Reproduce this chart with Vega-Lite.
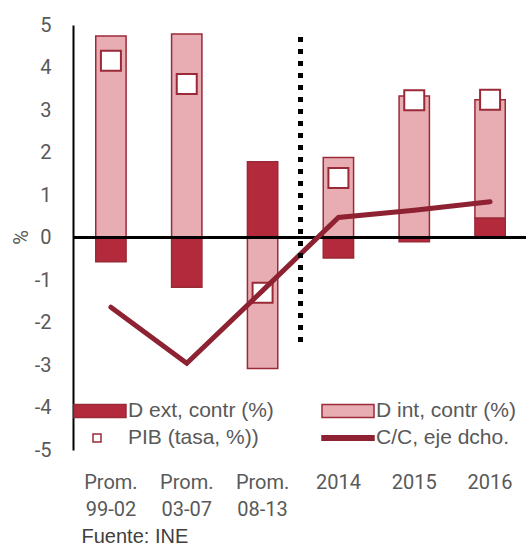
{
  "$schema": "https://vega.github.io/schema/vega-lite/v6.json",
  "width": 455,
  "height": 425,
  "autosize": "none",
  "padding": {"left": 73, "top": 25, "right": 0, "bottom": 104},
  "background": "white",
  "config": {
    "view": {"stroke": null},
    "font": "Liberation Sans",
    "axis": {"labelFont": "Roboto", "titleFont": "Roboto", "labelColor": "#595959", "titleColor": "#595959", "labelFontSize": 20, "titleFontSize": 20, "titleFontWeight": "normal", "grid": false, "ticks": false},
    "legend": {"labelFont": "Liberation Sans", "labelFontSize": 21, "labelColor": "#595959"}
  },
  "data": {
    "values": [
      {"cat": "Prom. 99-02", "serie": "D ext, contr (%)", "v": -0.57},
      {"cat": "Prom. 03-07", "serie": "D ext, contr (%)", "v": -1.17},
      {"cat": "Prom. 08-13", "serie": "D ext, contr (%)", "v": 1.78},
      {"cat": "2014", "serie": "D ext, contr (%)", "v": -0.48},
      {"cat": "2015", "serie": "D ext, contr (%)", "v": -0.10},
      {"cat": "2016", "serie": "D ext, contr (%)", "v": 0.46},
      {"cat": "Prom. 99-02", "serie": "D int, contr (%)", "v": 4.74},
      {"cat": "Prom. 03-07", "serie": "D int, contr (%)", "v": 4.79},
      {"cat": "Prom. 08-13", "serie": "D int, contr (%)", "v": -3.08},
      {"cat": "2014", "serie": "D int, contr (%)", "v": 1.88},
      {"cat": "2015", "serie": "D int, contr (%)", "v": 3.33},
      {"cat": "2016", "serie": "D int, contr (%)", "v": 2.78},
      {"cat": "Prom. 99-02", "serie": "PIB (tasa, %))", "v": 4.16},
      {"cat": "Prom. 03-07", "serie": "PIB (tasa, %))", "v": 3.61},
      {"cat": "Prom. 08-13", "serie": "PIB (tasa, %))", "v": -1.30},
      {"cat": "2014", "serie": "PIB (tasa, %))", "v": 1.40},
      {"cat": "2015", "serie": "PIB (tasa, %))", "v": 3.23},
      {"cat": "2016", "serie": "PIB (tasa, %))", "v": 3.24},
      {"cat": "Prom. 99-02", "serie": "C/C, eje dcho.", "v": -1.64},
      {"cat": "Prom. 03-07", "serie": "C/C, eje dcho.", "v": -2.96},
      {"cat": "Prom. 08-13", "serie": "C/C, eje dcho.", "v": -1.25},
      {"cat": "2014", "serie": "C/C, eje dcho.", "v": 0.47},
      {"cat": "2015", "serie": "C/C, eje dcho.", "v": 0.64},
      {"cat": "2016", "serie": "C/C, eje dcho.", "v": 0.84}
    ]
  },
  "encoding": {
    "x": {
      "field": "cat", "type": "nominal", "sort": null,
      "scale": {"paddingInner": 0, "paddingOuter": 0},
      "axis": {"title": "Fuente: INE", "labelAngle": 0, "domain": false, "labelPadding": 22, "labelLineHeight": 27, "labelExpr": "split(datum.label, ' ')", "titleFont": "Liberation Sans", "titleFontSize": 20, "titleAnchor": "start", "titleAlign": "left", "titleX": 8, "titleY": 92, "titleBaseline": "alphabetic", "titleColor": "#404040"}
    }
  },
  "layer": [
    {
      "transform": [{"filter": "datum.serie == 'D ext, contr (%)' || datum.serie == 'D int, contr (%)'"}],
      "mark": {"type": "bar", "width": {"band": 0.4}, "strokeWidth": 1.5},
      "encoding": {
        "y": {"field": "v", "type": "quantitative", "stack": "zero",
          "scale": {"domain": [-5, 5], "nice": false},
          "axis": {"title": "%", "values": [-5, -4, -3, -2, -1, 0, 1, 2, 3, 4, 5], "labelExpr": "'' + datum.value", "domainColor": "black", "domainWidth": 2, "labelPadding": 22, "titleX": -52, "titleY": 212, "titleAngle": -90, "titleAlign": "center", "titleBaseline": "middle"}},
        "order": {"field": "serie", "sort": "ascending"},
        "stroke": {"field": "serie", "type": "nominal",
          "scale": {"domain": ["D ext, contr (%)", "PIB (tasa, %))", "D int, contr (%)", "C/C, eje dcho."], "range": ["#9A2A38", "#9A2A38", "#9A2A38", "#8E2232"]},
          "legend": {"title": null, "orient": "none", "legendX": 0, "legendY": 375, "columns": 2, "columnPadding": 45, "rowPadding": 6, "symbolSize": 400, "labelOffset": 33, "padding": 0, "symbolStrokeWidth": 1.5}},
        "fill": {"field": "serie", "type": "nominal",
          "scale": {"domain": ["D ext, contr (%)", "PIB (tasa, %))", "D int, contr (%)", "C/C, eje dcho."], "range": ["#B22A3B", "#FFFFFF", "#E8ADB3", "#8E2232"]},
          "legend": {"title": null, "orient": "none", "legendX": 0, "legendY": 375, "columns": 2, "columnPadding": 45, "rowPadding": 6, "symbolSize": 400, "labelOffset": 33, "padding": 0, "symbolStrokeWidth": 1.5,
            "encode": {"symbols": {
              "update": {"shape": {"signal": "datum.value == 'PIB (tasa, %))' ? 'M0.9,-0.4H1.7V0.4H0.9Z' : (datum.value == 'C/C, eje dcho.' ? 'M-1,-0.22H4.2V0.22H-1Z' : 'M-1,-0.65H4.2V0.65H-1Z')"}, "strokeWidth": {"value": 1.5}, "opacity": {"value": 1}}}}}}
      }
    },
    {
      "mark": {"type": "rule", "color": "black", "strokeWidth": 1.5},
      "encoding": {"y": {"datum": 0, "type": "quantitative"}, "x": {"value": 0}, "x2": {"value": "width"}}
    },
    {
      "transform": [{"filter": "datum.serie == 'PIB (tasa, %))'"}],
      "mark": {"type": "point", "shape": "square", "size": 400, "filled": true, "strokeWidth": 2, "opacity": 1},
      "encoding": {
        "y": {"field": "v", "type": "quantitative"},
        "fill": {"field": "serie", "type": "nominal"},
        "stroke": {"field": "serie", "type": "nominal"}
      }
    },
    {
      "transform": [{"filter": "datum.serie == 'C/C, eje dcho.'"}],
      "mark": {"type": "line", "strokeWidth": 5, "strokeCap": "round", "strokeJoin": "miter"},
      "encoding": {
        "y": {"field": "v", "type": "quantitative"},
        "stroke": {"field": "serie", "type": "nominal"}
      }
    },
    {
      "mark": {"type": "rule", "color": "black", "strokeWidth": 5, "strokeDash": [5, 7], "strokeCap": "butt"},
      "encoding": {
        "x": {"datum": "Prom. 08-13", "bandPosition": 1},
        "y": {"datum": 4.72, "type": "quantitative"},
        "y2": {"datum": -2.6}
      }
    }
  ]
}
